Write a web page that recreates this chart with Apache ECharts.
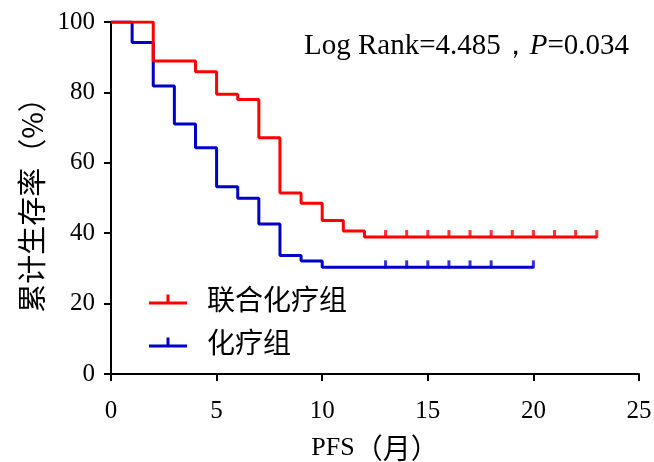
<!DOCTYPE html>
<html>
<head>
<meta charset="utf-8">
<script src="https://cdn.jsdelivr.net/npm/echarts/dist/echarts.min.js"></script>
<style>
html,body{margin:0;padding:0;background:#fff;}
#chart{width:654px;height:462px;}
</style>
</head>
<body>
<div id="chart"></div>
<script>
// Kaplan-Meier step points (time in months, survival %)
const comboTimes = [0, 2, 4, 5, 6, 7, 8, 9, 10, 11, 12, 23];
const comboSurv  = [100, 88.9, 85.9, 79.5, 78.0, 67.1, 51.4, 48.5, 43.6, 40.6, 38.9, 38.9];
const chemoTimes = [0, 1, 2, 3, 4, 5, 6, 7, 8, 9, 10, 20];
const chemoSurv  = [100, 94.2, 81.8, 71.0, 64.3, 53.2, 49.9, 42.6, 33.7, 32.1, 30.3, 30.3];
// censored observations
const comboCensorTimes = [13, 14, 15, 16, 17, 18, 19, 20, 21, 22, 23];
const comboCensorSurv = 38.9;
const chemoCensorTimes = [13, 14, 15, 16, 17, 18, 20];
const chemoCensorSurv = 30.3;
const seriesNames = ['联合化疗组', '化疗组'];
const xTicks = {min: 0, max: 25, interval: 5};
const yTicks = {min: 0, max: 100, interval: 20};

const RED = '#ff0000', BLUE = '#0000c8';
const serif = '"Liberation Serif","Times New Roman",serif';
const cjk = '"Noto Sans CJK SC","Noto Sans CJK JP",sans-serif';

const zip = (a, b) => a.map((v, i) => [v, b[i]]);
const censor = (ts, s) => ts.map(t => [t, s]);

const chart = echarts.init(document.getElementById('chart'), null, {renderer: 'canvas'});
chart.setOption({
  animation: false,
  backgroundColor: '#fff',
  grid: {left: 111, right: 15, top: 22, bottom: 88, containLabel: false, outerBoundsMode: 'none'},
  title: {
    left: 299, top: 27,
    text: '{a|Log Rank=4.485，}{b|P}{a|=0.034}',
    textStyle: {
      fontWeight: 'normal',
      rich: {
        a: {fontFamily: serif, fontSize: 29, color: '#000', fontWeight: 'normal'},
        b: {fontFamily: serif, fontSize: 29, color: '#000', fontStyle: 'italic', fontWeight: 'normal'}
      }
    }
  },
  legend: {
    data: seriesNames,
    orient: 'vertical',
    left: 144, top: 276,
    itemWidth: 38, itemHeight: 10, itemGap: 6,
    icon: 'path://M0,10 L38,10 L38,13 L0,13 Z M17.5,3 L20.5,3 L20.5,10 L17.5,10 Z',
    textStyle: {fontFamily: cjk, fontSize: 28, color: '#000', padding: [7, 0, 0, 15], lineHeight: 30},
    selectedMode: false
  },
  xAxis: {
    type: 'value', min: xTicks.min, max: xTicks.max, interval: xTicks.interval,
    name: '{a|PFS}{b|（月）}',
    nameLocation: 'middle', nameGap: 60,
    nameTextStyle: {rich: {
      a: {fontFamily: serif, fontSize: 26, color: '#000'},
      b: {fontFamily: cjk, fontSize: 28, color: '#000'}
    }},
    axisLine: {lineStyle: {color: '#000', width: 2}},
    axisTick: {length: 7, lineStyle: {color: '#000', width: 2}},
    axisLabel: {fontFamily: serif, fontSize: 25, color: '#000', margin: 25},
    splitLine: {show: false}
  },
  yAxis: {
    type: 'value', min: yTicks.min, max: yTicks.max, interval: yTicks.interval,
    name: '累计生存率（%）',
    nameLocation: 'middle', nameGap: 60, nameRotate: 90,
    nameTextStyle: {fontFamily: cjk, fontSize: 29, color: '#000'},
    axisLine: {lineStyle: {color: '#000', width: 2}},
    axisTick: {length: 7, lineStyle: {color: '#000', width: 2}},
    axisLabel: {fontFamily: serif, fontSize: 25, color: '#000', margin: 16},
    splitLine: {show: false}
  },
  series: [
    {name: seriesNames[0], type: 'line', step: 'end', data: zip(comboTimes, comboSurv),
     showSymbol: false, symbol: 'none', lineStyle: {color: RED, width: 3}, itemStyle: {color: RED}, z: 3},
    {name: seriesNames[1], type: 'line', step: 'end', data: zip(chemoTimes, chemoSurv),
     showSymbol: false, symbol: 'none', lineStyle: {color: BLUE, width: 3}, itemStyle: {color: BLUE}, z: 2},
    {name: 'c1', type: 'scatter', data: censor(comboCensorTimes, comboCensorSurv),
     symbol: 'rect', symbolSize: [3, 8], symbolOffset: [0, -3], itemStyle: {color: RED}, z: 3},
    {name: 'c2', type: 'scatter', data: censor(chemoCensorTimes, chemoCensorSurv),
     symbol: 'rect', symbolSize: [3, 8], symbolOffset: [0, -3], itemStyle: {color: BLUE}, z: 2}
  ]
});
</script>
</body>
</html>
